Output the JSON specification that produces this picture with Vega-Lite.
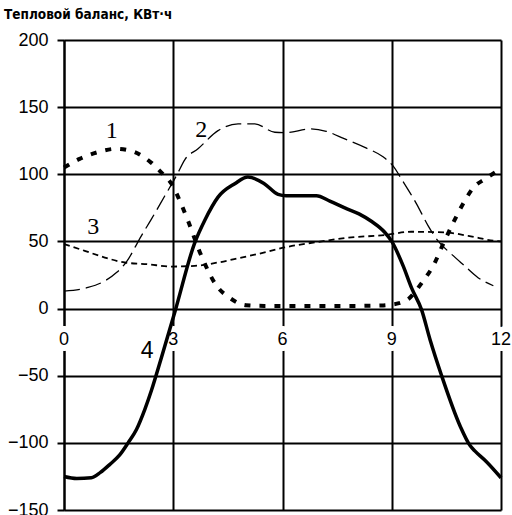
{
  "$schema": "https://vega.github.io/schema/vega-lite/v6.json",
  "autosize": "none",
  "width": 437,
  "height": 470,
  "padding": {"left": 64, "top": 40, "right": 11, "bottom": 5},
  "background": "white",
  "title": {
    "text": "Тепловой баланс, КВт·ч",
    "anchor": "start",
    "frame": "group",
    "dx": -60,
    "offset": 10,
    "font": "Liberation Sans Narrow, DejaVu Sans Condensed, sans-serif",
    "fontSize": 13.5,
    "fontWeight": "bold",
    "color": "black"
  },
  "config": {
    "view": {"stroke": null},
    "axis": {
      "gridColor": "black",
      "gridWidth": 2,
      "gridOpacity": 1,
      "domainColor": "black",
      "domainWidth": 2,
      "tickColor": "black",
      "tickWidth": 2,
      "labelColor": "black",
      "labelFont": "Liberation Sans, Arial, sans-serif",
      "labelFontSize": 18
    }
  },
  "datasets": {
    "curves": [
      {"series": "1", "x": 0, "y": 105}, {"series": "1", "x": 0.43, "y": 111.5}, {"series": "1", "x": 0.93, "y": 116.5}, {"series": "1", "x": 1.44, "y": 119}, {"series": "1", "x": 1.94, "y": 116.5}, {"series": "1", "x": 2.4, "y": 108.5}, {"series": "1", "x": 2.72, "y": 100}, {"series": "1", "x": 2.95, "y": 93}, {"series": "1", "x": 3.23, "y": 77}, {"series": "1", "x": 3.41, "y": 65}, {"series": "1", "x": 3.73, "y": 42}, {"series": "1", "x": 4.19, "y": 17}, {"series": "1", "x": 4.55, "y": 8}, {"series": "1", "x": 5.0, "y": 2.5}, {"series": "1", "x": 5.5, "y": 2}, {"series": "1", "x": 6, "y": 2}, {"series": "1", "x": 7, "y": 2}, {"series": "1", "x": 8, "y": 2}, {"series": "1", "x": 8.7, "y": 2.3}, {"series": "1", "x": 9.0, "y": 3}, {"series": "1", "x": 9.2, "y": 4}, {"series": "1", "x": 9.45, "y": 7}, {"series": "1", "x": 9.82, "y": 19}, {"series": "1", "x": 10.18, "y": 34}, {"series": "1", "x": 10.41, "y": 48}, {"series": "1", "x": 10.69, "y": 64}, {"series": "1", "x": 11.0, "y": 80}, {"series": "1", "x": 11.24, "y": 90}, {"series": "1", "x": 11.56, "y": 96.5}, {"series": "1", "x": 11.92, "y": 102.7}, {"series": "1", "x": 12, "y": 104},
      {"series": "2", "x": 0, "y": 13}, {"series": "2", "x": 0.66, "y": 15.7}, {"series": "2", "x": 1.12, "y": 20.6}, {"series": "2", "x": 1.45, "y": 27}, {"series": "2", "x": 1.71, "y": 34.6}, {"series": "2", "x": 2.12, "y": 54}, {"series": "2", "x": 2.4, "y": 66.6}, {"series": "2", "x": 2.77, "y": 84}, {"series": "2", "x": 3.09, "y": 99}, {"series": "2", "x": 3.32, "y": 111}, {"series": "2", "x": 3.68, "y": 119}, {"series": "2", "x": 4.23, "y": 132.5}, {"series": "2", "x": 4.78, "y": 137.5}, {"series": "2", "x": 5.24, "y": 137.5}, {"series": "2", "x": 5.79, "y": 131.3}, {"series": "2", "x": 6.1, "y": 131}, {"series": "2", "x": 6.75, "y": 133.8}, {"series": "2", "x": 7.2, "y": 132}, {"series": "2", "x": 7.71, "y": 126.3}, {"series": "2", "x": 8.26, "y": 120}, {"series": "2", "x": 8.76, "y": 113}, {"series": "2", "x": 9.03, "y": 106.4}, {"series": "2", "x": 9.3, "y": 95}, {"series": "2", "x": 9.68, "y": 78}, {"series": "2", "x": 10.0, "y": 61.6}, {"series": "2", "x": 10.27, "y": 50.4}, {"series": "2", "x": 10.64, "y": 40.5}, {"series": "2", "x": 11.0, "y": 31.8}, {"series": "2", "x": 11.37, "y": 23}, {"series": "2", "x": 11.79, "y": 17},
      {"series": "3", "x": 0, "y": 48}, {"series": "3", "x": 0.57, "y": 43}, {"series": "3", "x": 1.12, "y": 38}, {"series": "3", "x": 1.67, "y": 34.3}, {"series": "3", "x": 2.3, "y": 33}, {"series": "3", "x": 2.95, "y": 31.3}, {"series": "3", "x": 3.59, "y": 31.8}, {"series": "3", "x": 4.23, "y": 34.3}, {"series": "3", "x": 4.87, "y": 38}, {"series": "3", "x": 5.51, "y": 41.8}, {"series": "3", "x": 6.06, "y": 45.5}, {"series": "3", "x": 6.98, "y": 49.7}, {"series": "3", "x": 7.89, "y": 53}, {"series": "3", "x": 8.8, "y": 54.7}, {"series": "3", "x": 9.54, "y": 57.2}, {"series": "3", "x": 10.46, "y": 56.7}, {"series": "3", "x": 11.1, "y": 54.2}, {"series": "3", "x": 11.83, "y": 50.4}, {"series": "3", "x": 12, "y": 50},
      {"series": "4", "x": 0, "y": -125}, {"series": "4", "x": 0.35, "y": -126.5}, {"series": "4", "x": 0.75, "y": -126}, {"series": "4", "x": 1.0, "y": -122}, {"series": "4", "x": 1.26, "y": -116}, {"series": "4", "x": 1.53, "y": -109}, {"series": "4", "x": 1.76, "y": -100}, {"series": "4", "x": 1.99, "y": -90}, {"series": "4", "x": 2.22, "y": -75}, {"series": "4", "x": 2.4, "y": -61}, {"series": "4", "x": 2.68, "y": -36}, {"series": "4", "x": 3.06, "y": -1}, {"series": "4", "x": 3.59, "y": 49}, {"series": "4", "x": 3.87, "y": 66}, {"series": "4", "x": 4.23, "y": 83}, {"series": "4", "x": 4.69, "y": 93}, {"series": "4", "x": 5.05, "y": 98}, {"series": "4", "x": 5.5, "y": 93}, {"series": "4", "x": 5.88, "y": 85}, {"series": "4", "x": 6.1, "y": 84}, {"series": "4", "x": 6.93, "y": 84}, {"series": "4", "x": 7.3, "y": 80}, {"series": "4", "x": 7.71, "y": 75}, {"series": "4", "x": 8.1, "y": 70.5}, {"series": "4", "x": 8.44, "y": 65}, {"series": "4", "x": 8.8, "y": 57}, {"series": "4", "x": 9.0, "y": 50}, {"series": "4", "x": 9.31, "y": 32}, {"series": "4", "x": 9.55, "y": 15}, {"series": "4", "x": 9.82, "y": -1}, {"series": "4", "x": 10.05, "y": -23}, {"series": "4", "x": 10.37, "y": -50}, {"series": "4", "x": 10.88, "y": -87.6}, {"series": "4", "x": 11.15, "y": -102}, {"series": "4", "x": 11.28, "y": -106}, {"series": "4", "x": 11.6, "y": -114}, {"series": "4", "x": 12, "y": -126}
    ],
    "xticks": [{"v": 0}, {"v": 3}, {"v": 6}, {"v": 9}, {"v": 12}],
    "labels": [
      {"lab": "1", "x": 1.31, "y": 132},
      {"lab": "2", "x": 3.77, "y": 133},
      {"lab": "3", "x": 0.8, "y": 61}
    ],
    "label4": [{"lab": "4", "x": 2.28, "y": -31.5}]
  },
  "layer": [
    {
      "data": {"name": "xticks"},
      "mark": {"type": "text", "fontSize": 18, "font": "Liberation Sans, Arial, sans-serif", "baseline": "middle", "align": "center", "dy": 31, "fill": "white", "stroke": "white", "strokeWidth": 12, "strokeJoin": "round"},
      "encoding": {
        "x": {"field": "v", "type": "quantitative", "scale": {"domain": [0, 12], "nice": false}, "axis": {"values": [0, 3, 6, 9, 12], "labels": false, "ticks": false, "domain": false, "title": null, "grid": true}},
        "y": {"datum": 0, "type": "quantitative", "scale": {"domain": [-150, 200], "nice": false}, "axis": {"values": [-150, -100, -50, 0, 50, 100, 150, 200], "title": null, "tickSize": 7, "labelPadding": 9, "grid": true}},
        "text": {"field": "v", "type": "quantitative"}
      }
    },
    {
      "data": {"name": "xticks"},
      "mark": {"type": "text", "fontSize": 18, "font": "Liberation Sans, Arial, sans-serif", "baseline": "middle", "align": "center", "dy": 31, "fill": "black"},
      "encoding": {
        "x": {"field": "v", "type": "quantitative"},
        "y": {"datum": 0, "type": "quantitative"},
        "text": {"field": "v", "type": "quantitative"}
      }
    },
    {
      "data": {"name": "curves"},
      "transform": [{"filter": "datum.series === '2'"}],
      "mark": {"type": "line", "interpolate": "monotone", "color": "black", "strokeWidth": 1.3, "strokeDash": [16, 6]},
      "encoding": {"x": {"field": "x", "type": "quantitative"}, "y": {"field": "y", "type": "quantitative"}}
    },
    {
      "data": {"name": "curves"},
      "transform": [{"filter": "datum.series === '3'"}],
      "mark": {"type": "line", "interpolate": "monotone", "color": "black", "strokeWidth": 1.8, "strokeDash": [6, 4]},
      "encoding": {"x": {"field": "x", "type": "quantitative"}, "y": {"field": "y", "type": "quantitative"}}
    },
    {
      "data": {"name": "curves"},
      "transform": [{"filter": "datum.series === '1'"}],
      "mark": {"type": "line", "interpolate": "monotone", "color": "black", "strokeWidth": 4, "strokeDash": [6, 9]},
      "encoding": {"x": {"field": "x", "type": "quantitative"}, "y": {"field": "y", "type": "quantitative"}}
    },
    {
      "data": {"name": "curves"},
      "transform": [{"filter": "datum.series === '4'"}],
      "mark": {"type": "line", "interpolate": "monotone", "color": "black", "strokeWidth": 3.5},
      "encoding": {"x": {"field": "x", "type": "quantitative"}, "y": {"field": "y", "type": "quantitative"}}
    },
    {
      "data": {"name": "labels"},
      "mark": {"type": "text", "font": "Liberation Serif, Times New Roman, serif", "fontSize": 24, "baseline": "middle", "align": "center", "color": "black"},
      "encoding": {"x": {"field": "x", "type": "quantitative"}, "y": {"field": "y", "type": "quantitative"}, "text": {"field": "lab"}}
    },
    {
      "data": {"name": "label4"},
      "mark": {"type": "text", "font": "Liberation Sans, Arial, sans-serif", "fontSize": 23, "baseline": "middle", "align": "center", "color": "black"},
      "encoding": {"x": {"field": "x", "type": "quantitative"}, "y": {"field": "y", "type": "quantitative"}, "text": {"field": "lab"}}
    }
  ]
}
